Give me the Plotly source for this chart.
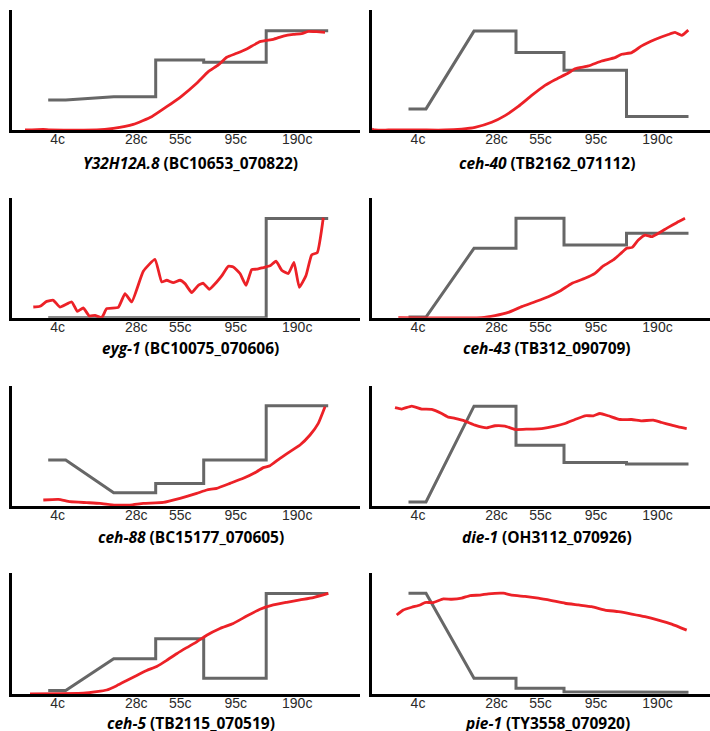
import plotly.graph_objects as go

# ---------------- data ----------------
stage_labels = ["4c", "28c", "55c", "95c", "190c"]
stage_ticks = [46, 124.5, 168.5, 224, 285.5]

# boundaries of the stage windows used by the grey (stage-averaged) profile
gray_bounds = [36.5, 54, 102, 144, 192, 254.5, 316.5]

gene_names = ["Y32H12A.8", "ceh-40", "eyg-1", "ceh-43", "ceh-88", "die-1", "ceh-5", "pie-1"]
strain_names = ["BC10653_070822", "TB2162_071112", "BC10075_070606", "TB312_090709",
                "BC15177_070605", "OH3112_070926", "TB2115_070519", "TY3558_070920"]

# grey: value per stage (4c, 28c, 55c, 95c, 190c)
gray_y32 = [0.25, 0.278, 0.583, 0.564, 0.828]
gray_ceh40 = [0.176, 0.824, 0.645, 0.497, 0.112]
gray_eyg1 = [0.0, 0.0, 0.0, 0.0, 0.827]
gray_ceh43 = [0.005, 0.578, 0.828, 0.606, 0.703]
gray_ceh88 = [0.382, 0.111, 0.188, 0.382, 0.834]
gray_die1 = [0.033, 0.83, 0.506, 0.361, 0.35]
gray_ceh5 = [0.028, 0.292, 0.456, 0.131, 0.83]
gray_pie1 = [0.833, 0.131, 0.047, 0.019, 0.015]

# red: lineage-resolved expression over time
red_y32_x = [13.3, 31.6, 38.3, 85, 101.6, 121.6, 140, 155, 170, 185, 196.6, 206.6, 215, 225, 235,
             248.3, 261.6, 271.6, 281.6, 290, 296.6, 305, 313.3]
red_y32_y = [0, 0.006, 0, 0, 0.014, 0.047, 0.111, 0.194, 0.283, 0.389, 0.486, 0.542, 0.606, 0.639,
             0.675, 0.736, 0.756, 0.783, 0.797, 0.803, 0.822, 0.819, 0.814]

red_ceh40_x = [0, 3, 16.3, 49.7, 73, 89.7, 103, 119.7, 133, 146.3, 159.7, 173, 183, 196.3, 203,
               216.3, 229.7, 243, 249.7, 259.7, 269.7, 283, 296.3, 303, 309.7, 316.3]
red_ceh40_y = [0.008, 0, 0, 0, 0, 0.008, 0.022, 0.064, 0.12, 0.196, 0.288, 0.372, 0.419, 0.475,
               0.511, 0.534, 0.575, 0.603, 0.631, 0.645, 0.701, 0.754, 0.796, 0.813, 0.788, 0.832]

red_eyg1_x = [21.6, 28.3, 35, 41.6, 48.3, 60, 65.6, 71.6, 77.6, 83.3, 90, 95, 106.6, 113.3, 120,
              131.6, 143.3, 150, 155, 161.6, 168.3, 173.3, 180, 186.6, 191.6, 197.6, 205, 210,
              216.6, 221.6, 228.3, 234.3, 240, 245, 251.6, 258.3, 264.3, 270, 276.6, 282.3,
              287.6, 294.3, 300, 305.6, 311.6]
red_eyg1_y = [0.089, 0.095, 0.136, 0.145, 0.089, 0.131, 0.053, 0.081, 0.014, 0.019, 0.0, 0.075,
              0.086, 0.201, 0.131, 0.387, 0.487, 0.298, 0.312, 0.292, 0.312, 0.284, 0.209, 0.27,
              0.287, 0.237, 0.298, 0.348, 0.429, 0.423, 0.368, 0.27, 0.401, 0.404, 0.418, 0.432,
              0.471, 0.396, 0.368, 0.46, 0.253, 0.351, 0.524, 0.543, 0.833]

red_ceh43_x = [26.3, 109.7, 123, 136.3, 149.7, 163, 176.3, 188, 199.7, 213, 223, 231.3, 241.3,
               249.7, 254.7, 260.3, 266.3, 273, 279.7, 286.3, 296.3, 304.7, 313]
red_ceh43_y = [0, 0, 0.017, 0.044, 0.092, 0.133, 0.175, 0.222, 0.286, 0.328, 0.369, 0.431, 0.481,
               0.542, 0.578, 0.586, 0.647, 0.689, 0.675, 0.703, 0.753, 0.792, 0.828]

red_ceh88_x = [31.6, 46.6, 58.3, 75, 88.3, 103.3, 118.3, 131.6, 151.6, 168.3, 185, 195, 205,
               218.3, 231.6, 245, 251.6, 258.3, 268.3, 278.3, 288.3, 298.3, 306.6, 313.3]
red_ceh88_y = [0.05, 0.055, 0.036, 0.028, 0.022, 0.008, 0.008, 0.022, 0.03, 0.064, 0.105, 0.133,
               0.147, 0.188, 0.23, 0.285, 0.319, 0.335, 0.396, 0.452, 0.507, 0.59, 0.687, 0.825]

red_die1_x = [23, 29.7, 39.7, 49.7, 59.7, 69.7, 76.3, 83, 93, 103, 114.7, 123, 133, 143, 156.3,
              169.7, 183, 193, 203, 213, 221.3, 228, 236.3, 248, 259.7, 269.7, 281.3, 289.7,
              299.7, 306.3, 314.7]
red_die1_y = [0.817, 0.806, 0.831, 0.806, 0.803, 0.769, 0.739, 0.728, 0.706, 0.672, 0.65, 0.667,
              0.664, 0.636, 0.639, 0.644, 0.664, 0.686, 0.719, 0.75, 0.75, 0.769, 0.75, 0.719,
              0.719, 0.708, 0.714, 0.694, 0.672, 0.658, 0.644]

red_ceh5_x = [18.3, 71.6, 85, 95, 105, 115, 125, 135, 145, 155, 165, 175, 185, 195, 208.3, 221.6,
              235, 248.3, 261.6, 275, 288.3, 301.6, 316.6]
red_ceh5_y = [0, 0.006, 0.019, 0.033, 0.069, 0.111, 0.153, 0.194, 0.228, 0.278, 0.333, 0.383,
              0.431, 0.486, 0.542, 0.583, 0.644, 0.7, 0.736, 0.758, 0.778, 0.797, 0.831]

red_pie1_x = [24.7, 31.3, 39.7, 48, 53, 61.3, 71.3, 79.7, 89.7, 98, 108, 116.3, 131.3, 139.7, 153,
              166.3, 179.7, 193, 206.3, 219.7, 233, 246.3, 259.7, 273, 286.3, 299.7, 314.7]
red_pie1_y = [0.653, 0.694, 0.717, 0.736, 0.756, 0.756, 0.786, 0.783, 0.792, 0.814, 0.817, 0.828,
              0.833, 0.817, 0.806, 0.792, 0.772, 0.75, 0.736, 0.722, 0.694, 0.681, 0.661, 0.639,
              0.611, 0.578, 0.528]

gray_sets = [gray_y32, gray_ceh40, gray_eyg1, gray_ceh43, gray_ceh88, gray_die1, gray_ceh5, gray_pie1]
red_sets = [(red_y32_x, red_y32_y), (red_ceh40_x, red_ceh40_y), (red_eyg1_x, red_eyg1_y),
            (red_ceh43_x, red_ceh43_y), (red_ceh88_x, red_ceh88_y), (red_die1_x, red_die1_y),
            (red_ceh5_x, red_ceh5_y), (red_pie1_x, red_pie1_y)]

# ---------------- layout ----------------
W, H = 710, 731
col_px = [(11.7, 360.0), (372.0, 710.0)]
row_px = [(10, 130), (197.7, 317.7), (385.7, 506), (573, 694)]
title_y_px = [163, 348, 536.5, 722.5]
title_x_px = [191, 547]

RED = "#ec2127"
GRAY = "#676767"

fig = go.Figure()
layout = dict(width=W, height=H, margin=dict(l=0, r=0, t=0, b=0),
              paper_bgcolor="white", plot_bgcolor="white", showlegend=False,
              annotations=[])

for i in range(8):
    r, c = divmod(i, 2)
    n = i + 1
    xa = "x" if n == 1 else f"x{n}"
    ya = "y" if n == 1 else f"y{n}"
    # grey step profile
    gx = [gray_bounds[0], gray_bounds[1], gray_bounds[2], gray_bounds[3], gray_bounds[3],
          gray_bounds[4], gray_bounds[4], gray_bounds[5], gray_bounds[5], gray_bounds[6]]
    g = gray_sets[i]
    gy = [g[0], g[0], g[1], g[1], g[2], g[2], g[3], g[3], g[4], g[4]]
    fig.add_trace(go.Scatter(x=gx, y=gy, mode="lines", xaxis=xa, yaxis=ya,
                             line=dict(color=GRAY, width=3), cliponaxis=False,
                             hoverinfo="skip"))
    rx, ry = red_sets[i]
    fig.add_trace(go.Scatter(x=rx, y=ry, mode="lines", xaxis=xa, yaxis=ya,
                             line=dict(color=RED, width=2.8, shape="spline", smoothing=0.4),
                             cliponaxis=False, hoverinfo="skip"))

    x0, x1 = col_px[c]
    y0, y1 = row_px[r]
    xkey = "xaxis" if n == 1 else f"xaxis{n}"
    ykey = "yaxis" if n == 1 else f"yaxis{n}"
    layout[xkey] = dict(domain=[x0 / W, x1 / W], range=[0, x1 - x0], anchor=ya,
                        showline=True, linecolor="black", linewidth=3, layer="below traces",
                        showgrid=False, zeroline=False, ticks="", ticklabelstandoff=-6,
                        tickmode="array", tickvals=stage_ticks, ticktext=stage_labels,
                        tickfont=dict(family="Liberation Sans, Arial", size=14, color="#2a2a2a"),
                        fixedrange=True)
    layout[ykey] = dict(domain=[1 - y1 / H, 1 - y0 / H], range=[0, 1], anchor=xa,
                        showline=True, linecolor="black", linewidth=3, layer="below traces",
                        showgrid=False, zeroline=False, showticklabels=False, ticks="",
                        fixedrange=True)
    layout["annotations"].append(dict(
        text=f"<b><i>{gene_names[i]}</i> ({strain_names[i]})</b>",
        xref="paper", yref="paper", x=title_x_px[c] / W, y=1 - title_y_px[r] / H,
        xanchor="center", yanchor="middle", showarrow=False,
        font=dict(family="Open Sans", size=15.5, color="black")))

fig.update_layout(**layout)
fig.write_html("out.html", config={"displayModeBar": False},
               post_script="document.body.style.margin='0';document.body.style.overflow='hidden';")
